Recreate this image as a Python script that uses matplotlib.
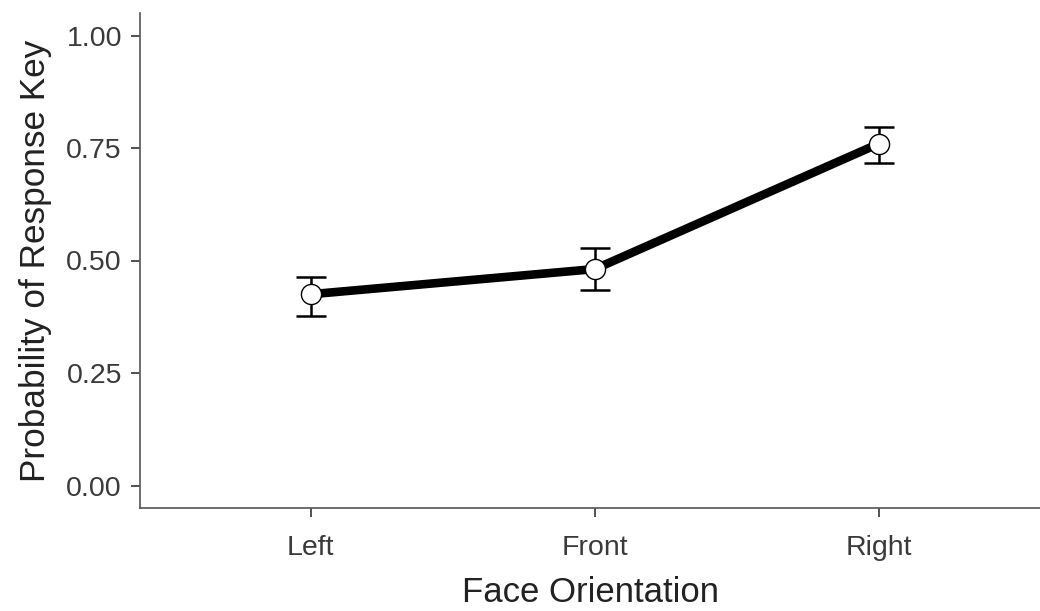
import matplotlib
matplotlib.use("Agg")
import matplotlib.pyplot as plt

# Data
orientations = ["Left", "Front", "Right"]
prob_mean = [0.425, 0.481, 0.760]
ci_low = [0.376, 0.434, 0.716]
ci_high = [0.464, 0.527, 0.797]

plt.rcParams['font.family'] = ['Liberation Sans', 'DejaVu Sans']

W, H = 1040, 611
fig = plt.figure(figsize=(W / 100, H / 100), dpi=100)
ax = fig.add_axes([140 / W, 1 - 508 / H, 900 / W, (508 - 13) / H])

x = list(range(1, len(orientations) + 1))
yerr = [[m - lo for m, lo in zip(prob_mean, ci_low)],
        [hi - m for m, hi in zip(prob_mean, ci_high)]]

ax.plot(x, prob_mean, color='black', lw=6.2, solid_capstyle='butt', zorder=2)
ax.errorbar(x, prob_mean, yerr=yerr, fmt='none', ecolor='black',
            elinewidth=1.8, capsize=10.5, capthick=1.8, zorder=3)
ax.plot(x, prob_mean, 'o', ms=14.5, mfc='white', mec='black', mew=1.0, zorder=4)

ax.set_xlim(0.4, 0.4 + 900 / 284.3)
ax.set_ylim(-0.05, 1.05)
ax.set_xticks(x)
ax.set_xticklabels(orientations)
ax.set_yticks([0, 0.25, 0.5, 0.75, 1.0])
ax.set_yticklabels(["0.00", "0.25", "0.50", "0.75", "1.00"])

for side in ['top', 'right']:
    ax.spines[side].set_visible(False)
for side in ['left', 'bottom']:
    ax.spines[side].set_color('#555555')
    ax.spines[side].set_linewidth(1.2)

ax.tick_params(axis='both', length=6.5, width=1.2, color='#333333',
               labelcolor='#3a3a3a', labelsize=20.5, pad=6.5)
ax.tick_params(axis='x', pad=13)

ax.set_xlabel("Face Orientation", fontsize=25, color='#222222', labelpad=11)
ax.set_ylabel("Probability of Response Key", fontsize=25.3, color='#222222', labelpad=10)

fig.savefig("out.png", dpi=100)
